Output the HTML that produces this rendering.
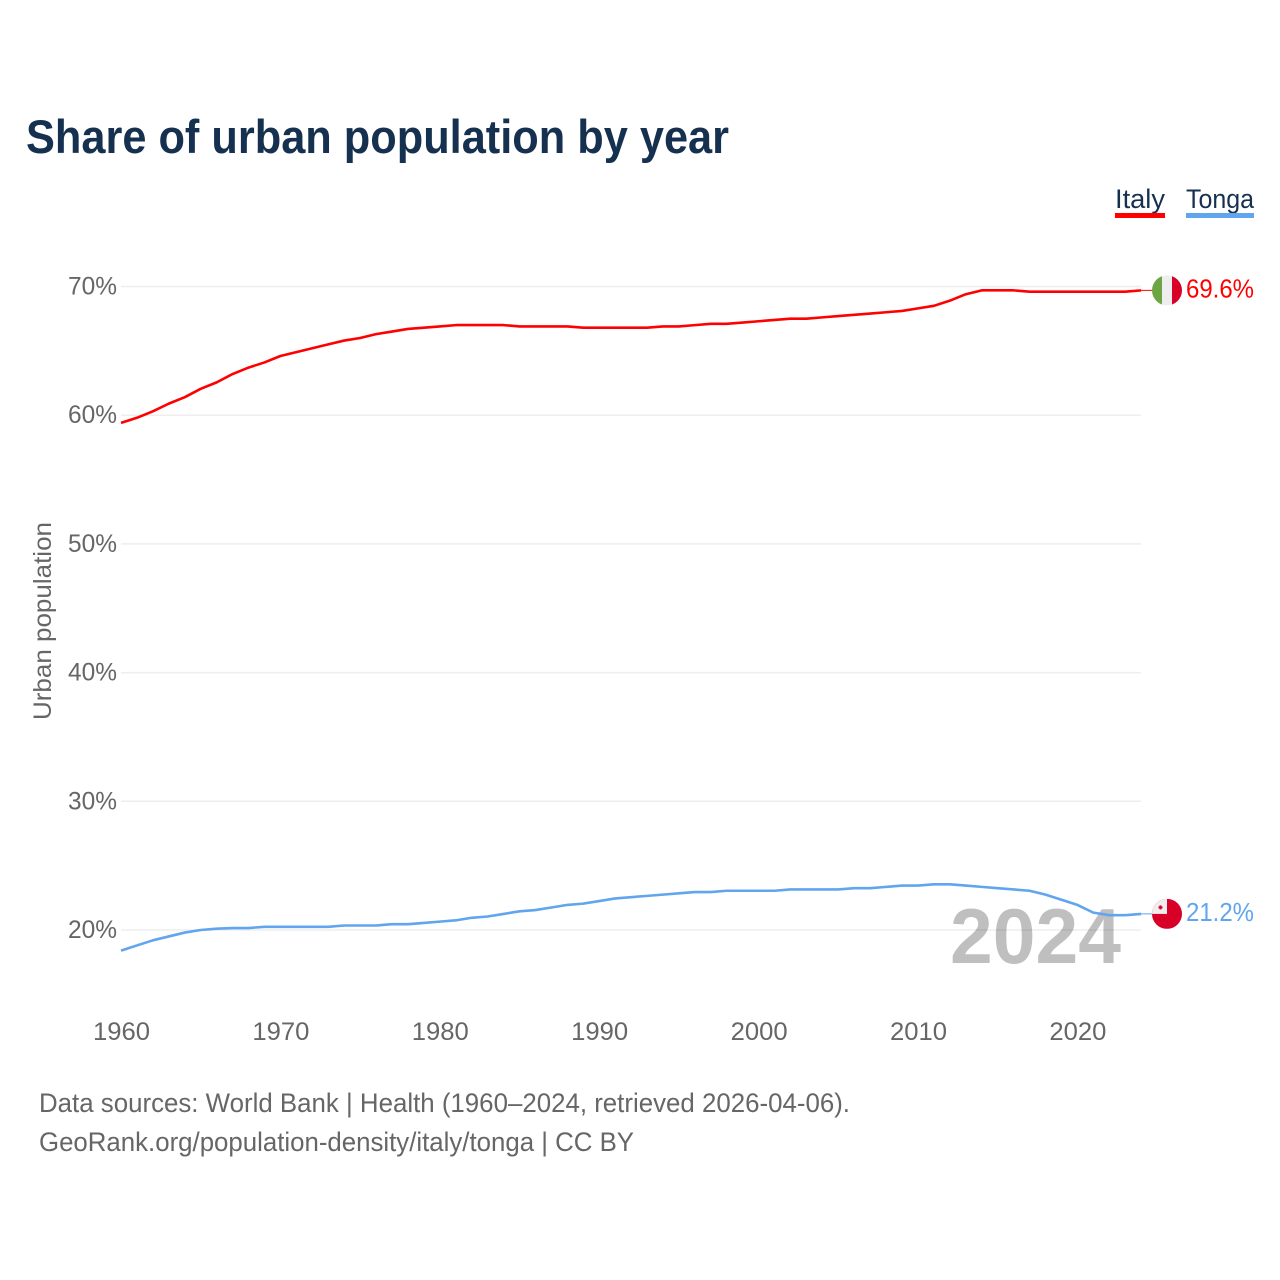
<!DOCTYPE html>
<html lang="en">
<head>
<meta charset="utf-8">
<title>Share of urban population by year</title>
<style>
html,body{margin:0;padding:0;background:#fff;width:1280px;height:1280px;overflow:hidden}
svg{display:block}
text{font-family:"Liberation Sans",sans-serif}
</style>
</head>
<body>
<svg id="chart" width="1280" height="1280" viewBox="0 0 1280 1280" xmlns="http://www.w3.org/2000/svg">
  <rect width="1280" height="1280" fill="#fff"/>
  <text x="26" y="153" font-size="47" font-weight="700" fill="#16314f" textLength="703" lengthAdjust="spacingAndGlyphs">Share of urban population by year</text>

  <g>
    <g>
      <text x="1115" y="208" font-size="27" fill="#16314f" textLength="50" lengthAdjust="spacingAndGlyphs">Italy</text>
      <rect x="1115" y="213" width="50" height="5" fill="#ff0000"/>
    </g>
    <g>
      <text x="1186" y="208" font-size="27" fill="#16314f" textLength="68" lengthAdjust="spacingAndGlyphs">Tonga</text>
      <rect x="1186" y="213" width="68" height="5" fill="#60a5ee"/>
    </g>
  </g>

  <text transform="translate(51 720) rotate(-90)" font-size="25" fill="#666" textLength="198" lengthAdjust="spacingAndGlyphs">Urban population</text>

  <g id="grid"></g>
  <g id="yticks"></g>
  <g id="xticks"></g>

  <text x="1121" y="963" text-anchor="end" font-size="78" font-weight="700" fill="#000" fill-opacity="0.25" textLength="171" lengthAdjust="spacingAndGlyphs">2024</text>

  <g id="series"></g>
  <g id="ends"></g>

  <g>
    <text x="39" y="1112" font-size="27" fill="#666" textLength="811" lengthAdjust="spacingAndGlyphs">Data sources: World Bank | Health (1960–2024, retrieved 2026-04-06).</text>
    <text x="39" y="1151" font-size="27" fill="#666" textLength="595" lengthAdjust="spacingAndGlyphs">GeoRank.org/population-density/italy/tonga | CC BY</text>
  </g>
</svg>
<script>
const startYear = 1960;
const yTickValues = [20, 30, 40, 50, 60, 70];
const xTickValues = [1960, 1970, 1980, 1990, 2000, 2010, 2020];
const italyValues = [59.4,59.8,60.3,60.9,61.4,62.05,62.55,63.2,63.7,64.1,64.6,64.9,65.2,65.5,65.8,66.0,66.3,66.5,66.7,66.8,66.9,67.0,67.0,67.0,67.0,66.9,66.9,66.9,66.9,66.8,66.8,66.8,66.8,66.8,66.9,66.9,67.0,67.1,67.1,67.2,67.3,67.4,67.5,67.5,67.6,67.7,67.8,67.9,68.0,68.1,68.3,68.5,68.9,69.4,69.7,69.7,69.7,69.6,69.6,69.6,69.6,69.6,69.6,69.6,69.7];
const tongaValues = [18.4,18.8,19.2,19.5,19.8,20.0,20.1,20.15,20.15,20.25,20.25,20.25,20.25,20.25,20.35,20.35,20.35,20.45,20.45,20.55,20.65,20.75,20.95,21.05,21.25,21.45,21.55,21.75,21.95,22.05,22.25,22.45,22.55,22.65,22.75,22.85,22.95,22.95,23.05,23.05,23.05,23.05,23.15,23.15,23.15,23.15,23.25,23.25,23.35,23.45,23.45,23.55,23.55,23.45,23.35,23.25,23.15,23.05,22.75,22.35,21.95,21.35,21.15,21.15,21.25];
const italyLabel = "69.6%";
const tongaLabel = "21.2%";

const NS = "http://www.w3.org/2000/svg";
const xScale = year => 121 + (year - 1960) * 15.94;
const yScale = value => 930 - (value - 20) * 12.87;

function svgEl(tag, attrs, text) {
  const el = document.createElementNS(NS, tag);
  for (const k in attrs) el.setAttribute(k, attrs[k]);
  if (text !== undefined) el.textContent = text;
  return el;
}

const grid = document.getElementById('grid');
const yticks = document.getElementById('yticks');
yTickValues.forEach(v => {
  const line = svgEl('line', {x1: 121, x2: 1141, y1: yScale(v), y2: yScale(v), stroke: '#eeeeee', 'stroke-width': 1.5});
  
  
  grid.appendChild(line);
  const label = svgEl('text', {x: 117, y: yScale(v) + 8, 'text-anchor': 'end', 'font-size': 25, fill: '#666', textLength: 49, lengthAdjust: 'spacingAndGlyphs'}, v + '%');
  
  
  yticks.appendChild(label);
});

const xticks = document.getElementById('xticks');
xTickValues.forEach(y => {
  const label = svgEl('text', {x: xScale(y) - 28, y: 1040, 'font-size': 25, fill: '#666', textLength: 57, lengthAdjust: 'spacingAndGlyphs'}, String(y));
  
  
  xticks.appendChild(label);
});

function linePath(values) {
  return values.map((v, i) => (i ? 'L' : 'M') + xScale(startYear + i).toFixed(2) + ' ' + yScale(v).toFixed(2)).join(' ');
}

const seriesGroup = document.getElementById('series');
const italyLine = svgEl('path', {d: linePath(italyValues), fill: 'none', stroke: '#ff0000', 'stroke-width': 2.6, 'stroke-linejoin': 'round'});


seriesGroup.appendChild(italyLine);
const tongaLine = svgEl('path', {d: linePath(tongaValues), fill: 'none', stroke: '#60a5ee', 'stroke-width': 2.6, 'stroke-linejoin': 'round'});


seriesGroup.appendChild(tongaLine);

const ends = document.getElementById('ends');
const flagX = 1167;
const lastX = xScale(startYear + italyValues.length - 1);

// Italy end marker
const italyY = yScale(italyValues[italyValues.length - 1]);
const italyLead = svgEl('line', {x1: lastX, x2: flagX, y1: italyY, y2: italyY, stroke: '#ff0000', 'stroke-width': 1});


ends.appendChild(italyLead);
const italyFlag = svgEl('g', {transform: 'translate(' + flagX + ' ' + italyY + ')'});


italyFlag.innerHTML =
  '<clipPath id="clip-it"><circle r="15"/></clipPath>' +
  '<g clip-path="url(#clip-it)">' +
  '<rect x="-15" y="-15" width="10" height="30" fill="#6da544"/>' +
  '<rect x="-5" y="-15" width="10" height="30" fill="#eeeeee"/>' +
  '<rect x="5" y="-15" width="10" height="30" fill="#d80027"/></g>';
ends.appendChild(italyFlag);
const italyText = svgEl('text', {x: 1186, y: italyY + 7, 'font-size': 26, fill: '#ff0000', textLength: 68, lengthAdjust: 'spacingAndGlyphs'}, italyLabel);


ends.appendChild(italyText);

// Tonga end marker
const tongaY = yScale(tongaValues[tongaValues.length - 1]);
const tongaLead = svgEl('line', {x1: lastX, x2: flagX, y1: tongaY, y2: tongaY, stroke: '#60a5ee', 'stroke-width': 1});


ends.appendChild(tongaLead);
const tongaFlag = svgEl('g', {transform: 'translate(' + flagX + ' ' + tongaY + ')'});


tongaFlag.innerHTML =
  '<clipPath id="clip-to"><circle r="15"/></clipPath>' +
  '<g clip-path="url(#clip-to)">' +
  '<rect x="-15" y="-15" width="30" height="30" fill="#d80027"/>' +
  '<rect x="-15" y="-15" width="15" height="15" fill="#eeeeee"/>' +
  '<rect x="-8.5" y="-7.5" width="4" height="2" fill="#d80027"/>' +
  '<rect x="-7.5" y="-8.5" width="2" height="4" fill="#d80027"/></g>';
ends.appendChild(tongaFlag);
const tongaText = svgEl('text', {x: 1186, y: tongaY + 7, 'font-size': 26, fill: '#60a5ee', textLength: 68, lengthAdjust: 'spacingAndGlyphs'}, tongaLabel);


ends.appendChild(tongaText);
</script>
</body>
</html>
